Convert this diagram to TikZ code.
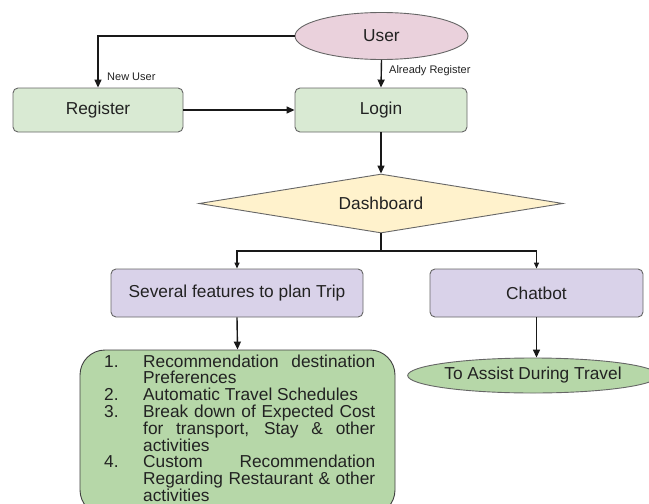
\documentclass[tikz,border=0pt]{standalone}
\usepackage{fontspec}
\setmainfont{Liberation Sans}
\usetikzlibrary{shapes.geometric,arrows.meta}
\definecolor{pinkf}{HTML}{EAD1DC}
\definecolor{greenf}{HTML}{D9EAD3}
\definecolor{yellowf}{HTML}{FFF2CC}
\definecolor{lavf}{HTML}{D9D2E9}
\definecolor{greentwo}{HTML}{B6D7A8}
\definecolor{edgec}{HTML}{666666}
\definecolor{ink}{HTML}{222222}
\newcommand{\itemline}[2]{\hbox{\makebox[39pt][l]{#1}#2}}
\begin{document}
\begin{tikzpicture}[x=1pt,y=-1pt,
  txt/.style={text=ink,font=\fontsize{17.3pt}{20pt}\selectfont},
  rbox/.style={draw=edgec,line width=0.9pt,rounded corners=5pt,inner sep=0pt,txt},
  oval/.style={ellipse,draw=edgec,line width=0.9pt,inner sep=0pt,txt},
  arr/.style={line width=1.4pt,draw=black!90,-{Triangle[length=8pt,width=7pt]}},
  sarr/.style={line width=1.3pt,draw=black!90,-{Triangle[length=6pt,width=5pt]}},
  lbl/.style={font=\fontsize{11pt}{13pt}\selectfont,text=ink,inner sep=0pt,anchor=west}]
\useasboundingbox (0,0) rectangle (649,504);
\clip (0,0) rectangle (649,504);
\fill[white] (0,0) rectangle (649,504);

\node[oval,fill=pinkf,minimum width=173pt,minimum height=47pt] (user) at (381.5,36) {User};
\node[rbox,fill=greenf,minimum width=170pt,minimum height=44pt] (register) at (98,110) {Register};
\node[rbox,fill=greenf,minimum width=172pt,minimum height=44pt] (login) at (381,110) {Login};
\node[diamond,shape aspect=6.17,draw=edgec,line width=0.9pt,fill=yellowf,minimum width=364pt,minimum height=59pt,inner sep=0pt,txt] (dash) at (381,203.5) {Dashboard};
\node[rbox,fill=lavf,minimum width=252pt,minimum height=48pt] (feat) at (237,293) {Several features to plan Trip};
\node[rbox,fill=lavf,minimum width=213pt,minimum height=48pt] (chat) at (536.5,293) {Chatbot};
\node[draw=black!75,line width=0.9pt,fill=greentwo,rounded corners=25pt,minimum width=315pt,minimum height=165pt,inner sep=0pt] (list) at (237.5,432.5) {};
\node[anchor=base west,inner sep=0pt,txt] (items) at (104,367) {\vtop{\hsize=271pt\baselineskip=16.8pt\lineskiplimit=-20pt
\itemline{1.}{\makebox[232pt][s]{Recommendation destination}}
\itemline{}{Preferences}
\itemline{2.}{Automatic Travel Schedules}
\itemline{3.}{\makebox[232pt][s]{Break down of Expected Cost}}
\itemline{}{\makebox[232pt][s]{for transport, Stay \& other}}
\itemline{}{activities}
\itemline{4.}{\makebox[232pt][s]{Custom Recommendation}}
\itemline{}{\makebox[232pt][s]{Regarding Restaurant \& other}}
\itemline{}{activities}}};
\node[oval,fill=greentwo,minimum width=236pt,minimum height=35pt] (assist) at (533,375.5) {To Assist During Travel};

\draw[arr] (user.west) -| (register.north);
\node[lbl] (newuser) at (107,77) {New User};
\draw[arr] (user.south) -- (login.north);
\node[lbl] (already) at (389,71) {Already Register};
\draw[arr] (register.east) -- (login.west);
\draw[arr] (login.south) -- (dash.north);
\coordinate (branch) at (381,251);
\draw[line width=1.3pt,draw=black!90] (dash.south) -- (branch);
\draw[sarr] (branch) -| (feat.north);
\draw[sarr] (branch) -| (chat.north);
\draw[arr] (feat.south) -- (list.north);
\draw[arr] (chat.south) -- (chat.south |- assist.north);
\end{tikzpicture}
\end{document}
